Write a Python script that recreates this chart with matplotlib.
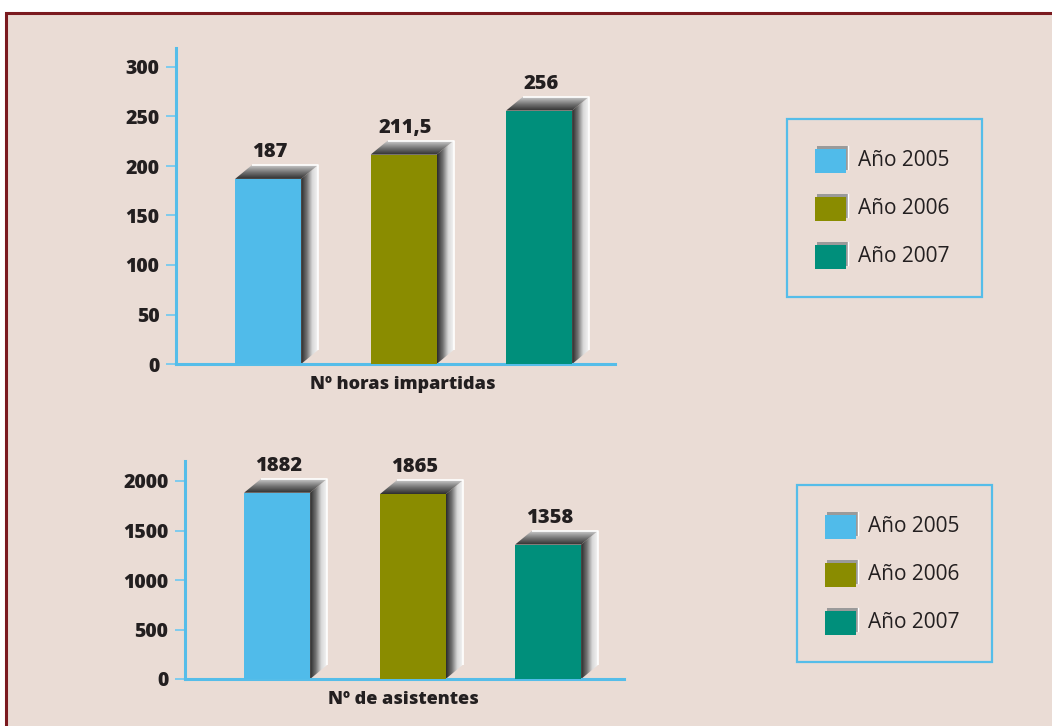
import matplotlib
matplotlib.use("Agg")
import matplotlib.pyplot as plt
import numpy as np
from matplotlib.patches import Rectangle, Polygon
from matplotlib.colors import LinearSegmentedColormap

years = ["Año 2005", "Año 2006", "Año 2007"]
colors = ["#50bbea", "#8a8c00", "#008f7b"]

horas = [187, 211.5, 256]
horas_labels = ["187", "211,5", "256"]
asistentes = [1882, 1865, 1358]
asistentes_labels = ["1882", "1865", "1358"]

W, H = 1052, 726
plt.rcParams['font.family'] = ['Open Sans', 'DejaVu Sans']

fig = plt.figure(figsize=(W / 100, H / 100), dpi=100)
fig.patch.set_facecolor("white")

# background panel and legends, drawn in pixel coordinates
bg = fig.add_axes([0, 0, 1, 1], zorder=-1)
bg.set_xlim(0, W)
bg.set_ylim(H, 0)
bg.axis("off")
bg.add_patch(Rectangle((6, 13), W + 20, H + 20, facecolor="#eadcd5",
                       edgecolor="#7b1a1f", linewidth=2.2))

axis_col = "#55bde9"
txt_col = "#231f20"
heavy = 800

side_cmap = LinearSegmentedColormap.from_list("side", ["#2b2b2b", "#707070", "#d8d8d8", "#f4f4f4"])
top_cmap = LinearSegmentedColormap.from_list("top", ["#2e2e2e", "#757575", "#c9c9c9"])


def legend_box(x0, y0, x1, y1, sx, rows):
    bg.add_patch(Rectangle((x0, y0), x1 - x0, y1 - y0, facecolor="none",
                           edgecolor=axis_col, linewidth=1.6))
    for name, c, yc in zip(years, colors, rows):
        bg.add_patch(Rectangle((sx + 2, yc - 15), 31, 24, facecolor="#9a9a9a",
                               edgecolor="none"))
        bg.plot([sx + 33, sx + 33], [yc - 15, yc + 8], color="white", lw=1)
        bg.add_patch(Rectangle((sx, yc - 12), 31, 24, facecolor=c, edgecolor="none"))
        bg.text(sx + 43, yc, name, fontsize=15, color=txt_col, va="center", ha="left")


legend_box(787, 119, 982, 297, 815, [161, 209, 257])
legend_box(797, 485, 992, 662, 825, [527, 575, 623])


def bar_chart(px_left, px_right, px_top, px_zero, px_per_unit, vals, labels,
              ticks, xlabel, label_x):
    ax = fig.add_axes([px_left / W, (H - px_zero) / H, (px_right - px_left) / W,
                       (px_zero - px_top) / H])
    ax.patch.set_alpha(0)
    x0, x1 = -0.68, 2.56
    ytop = (px_zero - px_top) / px_per_unit
    ux = (px_right - px_left) / (x1 - x0)
    dx, dy = 17 / ux, 14 / px_per_unit
    bw = 66 / ux
    xs = np.arange(len(vals))
    ax.bar(xs, vals, width=bw, color=colors, zorder=3)
    for x, v, lab in zip(xs, vals, labels):
        xl, xr = x - bw / 2, x + bw / 2
        side = Polygon([(xr, 0), (xr + dx, dy), (xr + dx, v + dy), (xr, v)],
                       closed=True, facecolor="none", edgecolor="none")
        ax.add_patch(side)
        im = ax.imshow(np.linspace(0, 1, 64).reshape(1, -1), cmap=side_cmap,
                       extent=[xr, xr + dx, 0, v + dy], aspect="auto", zorder=2)
        im.set_clip_path(side)
        top = Polygon([(xl, v), (xl + dx, v + dy), (xr + dx, v + dy), (xr, v)],
                      closed=True, facecolor="none", edgecolor="none")
        ax.add_patch(top)
        im2 = ax.imshow(np.linspace(0, 1, 64).reshape(-1, 1), cmap=top_cmap,
                        origin="lower", extent=[xl, xr + dx, v, v + dy],
                        aspect="auto", zorder=2)
        im2.set_clip_path(top)
        ax.plot([xl + dx, xr + dx, xr + dx], [v + dy, v + dy, dy], color="white",
                lw=1.2, zorder=2, solid_capstyle="butt")
        ax.text(x + 2 / ux, v + dy + 3 / px_per_unit, lab, ha="center", va="bottom",
                fontsize=14.5, fontweight=heavy, color=txt_col)
    ax.set_xlim(x0, x1)
    ax.set_ylim(0, ytop)
    ax.set_xticks([])
    ax.set_yticks(ticks)
    ax.set_yticklabels([str(t) for t in ticks], fontsize=14, fontweight=heavy,
                       color=txt_col)
    ax.tick_params(axis="y", length=7, width=1.4, color="#7fcbed", pad=5)
    for s in ["top", "right"]:
        ax.spines[s].set_visible(False)
    for s in ["left", "bottom"]:
        ax.spines[s].set_color(axis_col)
        ax.spines[s].set_linewidth(2.2)
    ax.text(label_x, -12 / (px_zero - px_top), xlabel, transform=ax.transAxes,
            ha="center", va="top", fontsize=13, fontweight=heavy, color=txt_col)
    return ax


bar_chart(176, 615, 48, 364, 0.99, horas, horas_labels,
          [0, 50, 100, 150, 200, 250, 300], "Nº horas impartidas", (402.5 - 176) / 439)
bar_chart(185, 624, 461, 679, 0.099, asistentes, asistentes_labels,
          [0, 500, 1000, 1500, 2000], "Nº de asistentes", (403 - 185) / 439)

fig.savefig("out.png", dpi=100)
